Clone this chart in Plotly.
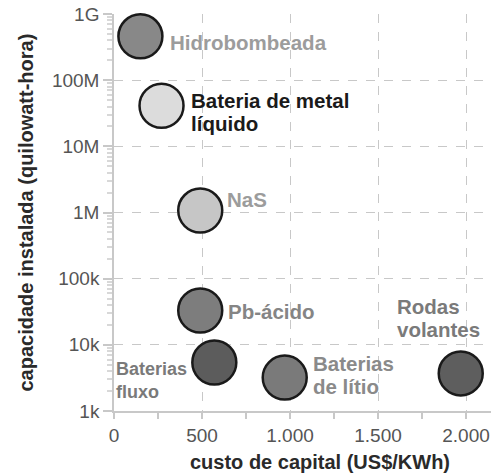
import plotly.graph_objects as go
import numpy as np

# custo de capital (US$/KWh) x capacidade instalada (kWh)
names = ['Hidrobombeada', 'Bateria de metal<br>líquido', 'NaS', 'Pb-ácido',
         'Baterias<br>fluxo', 'Baterias<br>de lítio', 'Rodas<br>volantes']
cost = [150, 270, 490, 490, 570, 970, 1970]
capacity = [4.6e8, 4.1e7, 1.07e6, 3.3e4, 5.4e3, 3.2e3, 3.7e3]

x_ticks = [0, 500, 1000, 1500, 2000]
x_labels = ['0', '500', '1.000', '1.500', '2.000']
y_ticks = [1e3, 1e4, 1e5, 1e6, 1e7, 1e8, 1e9]
y_labels = ['1k', '10k', '100k', '1M', '10M', '100M', '1G']

# styling
fills = ['#888888', '#dcdcdc', '#c6c6c6', '#7d7d7d', '#5c5c5c', '#7a7a7a', '#5e5e5e']
label_colors = ['#9c9c9c', '#1a1a1a', '#9c9c9c', '#858585', '#7a7a7a', '#8a8a8a', '#7a7a7a']
label_sizes = [20.5, 20.5, 20.5, 20.5, 18, 20.5, 20.5]
# (left-edge xshift, yshift of block centre) for each label relative to its circle
label_place = [(28, -6), (27, -6), (25, 11), (26, -1), (-100, -18), (26, 3), (-66, 55)]
LINE_H = 23

FONT = 'Liberation Sans, Arial, sans-serif'
GRID = '#c8c8c8'

fig = go.Figure()
fig.add_trace(go.Scatter(
    x=cost, y=capacity, mode='markers', cliponaxis=False,
    marker=dict(size=44, color=fills, line=dict(color='#1a1a1a', width=2.5)),
    showlegend=False, hoverinfo='skip'
))

for name, cx, cy, col, fs, (dx, dy) in zip(names, cost, capacity, label_colors, label_sizes, label_place):
    lines = name.split('<br>')
    n = len(lines)
    for i, ln in enumerate(lines):
        off = dy + ((n - 1) / 2 - i) * LINE_H
        fig.add_annotation(x=cx, y=np.log10(cy), text='<b>' + ln + '</b>', showarrow=False,
                           xanchor='left', yanchor='middle', align='left',
                           xshift=dx, yshift=off,
                           font=dict(family=FONT, size=fs, color=col))

# axis titles
fig.add_annotation(xref='paper', yref='paper', x=0, y=0.5, xshift=-89, textangle=-90,
                   text='<b>capacidade instalada (quilowatt-hora)</b>', showarrow=False,
                   xanchor='center', yanchor='middle',
                   font=dict(family=FONT, size=20, color='#2a2a2a'))
fig.add_annotation(xref='paper', yref='paper', x=0.546, y=0, yshift=-51,
                   text='<b>custo de capital (US$/KWh)</b>', showarrow=False,
                   xanchor='center', yanchor='middle',
                   font=dict(family=FONT, size=20, color='#2a2a2a'))

minor_y = [k * 10.0 ** e for e in range(3, 9) for k in range(2, 10)]

fig.update_xaxes(range=[0, 2142], tickvals=x_ticks, ticktext=x_labels, automargin=False,
                 ticks='outside', ticklen=6, tickcolor=GRID, tickwidth=1.5,
                 showline=True, linecolor=GRID, linewidth=1.5, zeroline=False,
                 showgrid=True, gridcolor=GRID, griddash='dash', gridwidth=1,
                 minor=dict(dtick=250, ticks='outside', ticklen=6, tickcolor=GRID, showgrid=False),
                 tickfont=dict(family=FONT, size=19, color='#555555'))
fig.update_yaxes(type='log', range=[3, 9], tickvals=y_ticks, ticktext=y_labels, automargin=False,
                 ticks='outside', ticklen=9, tickcolor=GRID, tickwidth=1.5,
                 showline=True, linecolor=GRID, linewidth=1.5, zeroline=False,
                 showgrid=True, gridcolor=GRID, griddash='dash', gridwidth=1,
                 minor=dict(tickvals=minor_y, ticks='outside', ticklen=5, tickcolor='#d8d8d8', showgrid=False),
                 tickfont=dict(family=FONT, size=19, color='#555555'))

fig.update_layout(width=491, height=476, margin=dict(l=114, r=0, t=14, b=65, autoexpand=False),
                  plot_bgcolor='white', paper_bgcolor='white',
                  font=dict(family=FONT))

# drop the browser's default page margin so the chart sits at the top-left corner
fig.write_html("out.html", config={'displayModeBar': False},
               post_script="document.body.style.margin='0';")
